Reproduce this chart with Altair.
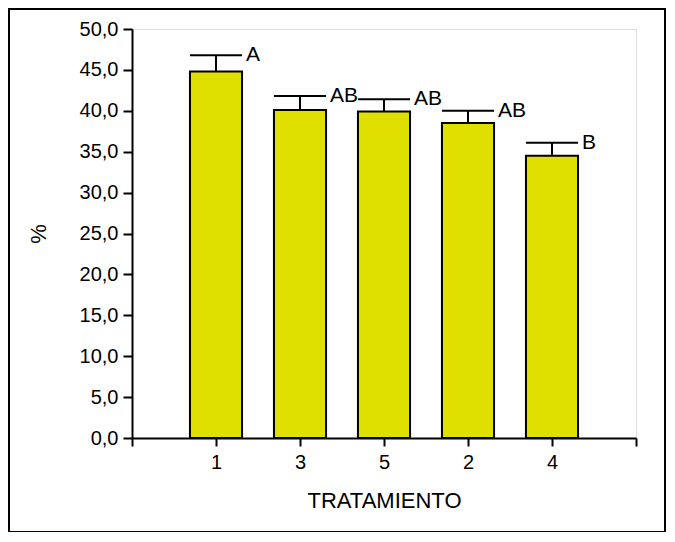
import altair as alt
import pandas as pd

# Data
tratamientos = ["1", "3", "5", "2", "4"]
medias = [44.8, 40.1, 39.9, 38.5, 34.5]
superior = [46.8, 41.8, 41.4, 40.0, 36.1]
letras = ["A", "AB", "AB", "AB", "B"]
y_ticks = [0, 5, 10, 15, 20, 25, 30, 35, 40, 45, 50]

df = pd.DataFrame({
    "trat": tratamientos,
    "pos": list(range(1, len(tratamientos) + 1)),
    "media": medias,
    "sup": superior,
    "letra": letras,
})

FONT = "Liberation Sans"
HALF = 0.31
W, H = 504, 409

label_arr = "[''," + ",".join(f"'{t}'" for t in tratamientos) + ",'']"

x_scale = alt.Scale(domain=[0, 6], nice=False, zero=False)
y_scale = alt.Scale(domain=[0, 50], nice=False)

base = alt.Chart(df).transform_calculate(
    left=f"datum.pos - {HALF}", right=f"datum.pos + {HALF}"
)

bars = base.mark_rect(color="#E0E000", stroke="black", strokeWidth=2).encode(
    x=alt.X("left:Q", scale=x_scale,
            axis=alt.Axis(values=[0, 1, 2, 3, 4, 5, 6],
                          labelExpr=f"{label_arr}[round(datum.value)]",
                          title="TRATAMIENTO", grid=False,
                          tickSize=8, tickWidth=2, domainWidth=2,
                          domainColor="black", tickColor="black",
                          labelFont=FONT, labelFontSize=20, labelColor="black",
                          labelPadding=6, labelFlush=False, labelOverlap=False,
                          titleFont=FONT, titleFontSize=22, titleFontWeight="normal",
                          titleColor="black", titleY=69, titleBaseline="alphabetic")),
    x2="right:Q",
    y=alt.Y("media:Q", scale=y_scale,
            axis=alt.Axis(values=y_ticks,
                          labelExpr="replace(format(datum.value, '.1f'), '.', ',')",
                          title="%", grid=False,
                          tickSize=9, tickWidth=2, domainWidth=2,
                          domainColor="black", tickColor="black",
                          labelFont=FONT, labelFontSize=20, labelColor="black",
                          labelPadding=5,
                          titleFont=FONT, titleFontSize=22, titleFontWeight="normal",
                          titleColor="black", titleX=-94, titleY=H / 2,
                          titleAlign="center", titleBaseline="middle")),
    y2=alt.Y2(datum=0),
)

stems = base.mark_rule(color="black", strokeWidth=2).encode(
    x=alt.X("pos:Q", scale=x_scale), y=alt.Y("media:Q", scale=y_scale), y2="sup:Q"
)

caps = base.mark_rule(color="black", strokeWidth=2).encode(
    x=alt.X("left:Q", scale=x_scale), x2="right:Q", y=alt.Y("sup:Q", scale=y_scale)
)

texts = base.mark_text(align="left", baseline="middle", dx=4, font=FONT,
                       fontSize=21, color="black").encode(
    x=alt.X("right:Q", scale=x_scale), y=alt.Y("sup:Q", scale=y_scale), text="letra:N"
)

border = alt.Chart(pd.DataFrame({"a": [0]})).mark_rect(
    fill=None, stroke="black", strokeWidth=2, clip=False
).encode(
    x=alt.value(-123), x2=alt.value(533), y=alt.value(-20), y2=alt.value(503)
)

chart = alt.layer(bars, stems, caps, texts, border).properties(
    width=W, height=H,
    autosize=alt.AutoSizeParams(type="none"),
    padding={"left": 124, "top": 21, "right": 31, "bottom": 94},
).configure_view(stroke=None).configure(background="white")

chart.save("out.html", embed_options={"renderer": "svg", "actions": False})
